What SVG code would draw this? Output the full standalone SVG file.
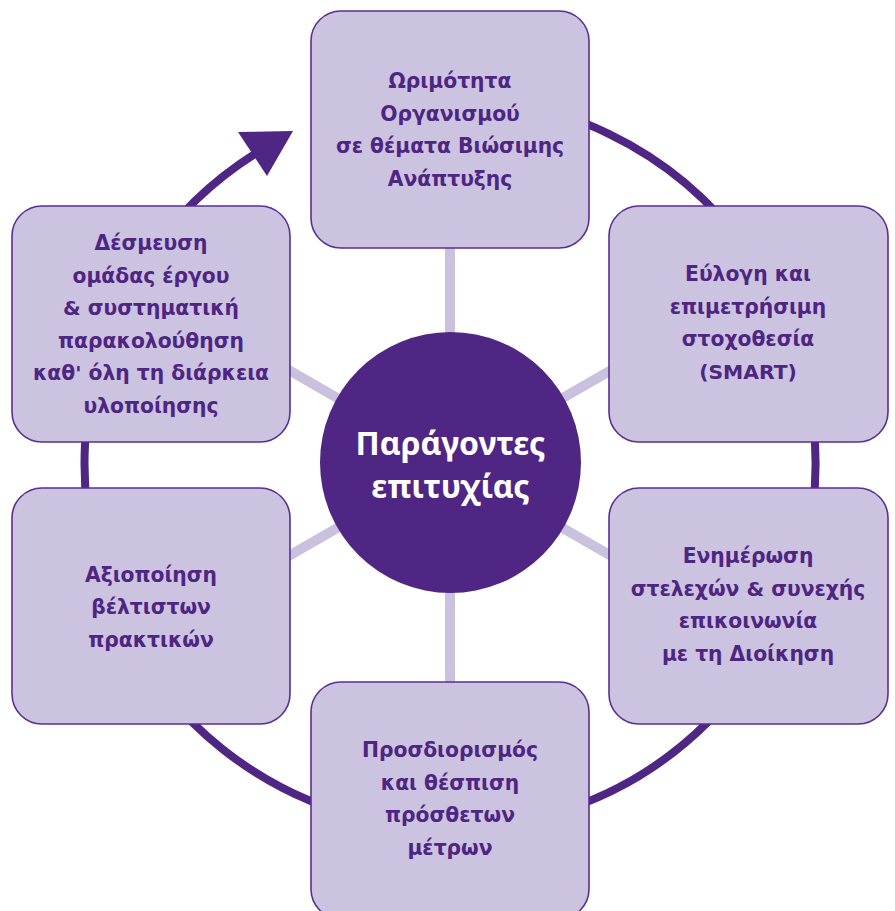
<svg xmlns="http://www.w3.org/2000/svg" width="895" height="911" viewBox="0 0 895 911">
<style>
.box{fill:#cbc3df;stroke:#5b2f91;stroke-width:1.6}
.t{font-family:"DejaVu Sans","Noto Sans",sans-serif;font-weight:700;font-size:20.3px;fill:#4e2582;text-anchor:middle}
.c{font-family:"Noto Sans","DejaVu Sans",sans-serif;font-weight:700;font-size:32px;fill:#ffffff;text-anchor:middle}
.spoke{stroke:#c9c1dd;stroke-width:10;fill:none}
.ring{stroke:#4f2683;stroke-width:8;fill:none}
</style>
<rect width="895" height="911" fill="#ffffff"/>
<g id="connectors">
<path class="ring" d="M 450 97.5 A 365.5 365.5 0 1 1 254.5 154.2"/>
<polygon points="238,132 293,131 267,176" fill="#4f2683"/>
<line class="spoke" x1="450" y1="463" x2="450" y2="240"/>
<line class="spoke" x1="450" y1="463" x2="450" y2="690"/>
<line class="spoke" x1="450" y1="463" x2="620" y2="365"/>
<line class="spoke" x1="450" y1="463" x2="620" y2="561"/>
<line class="spoke" x1="450" y1="463" x2="280" y2="365"/>
<line class="spoke" x1="450" y1="463" x2="280" y2="561"/>
</g>
<g id="center">
<circle cx="450.5" cy="462.5" r="130.5" fill="#4f2683"/>
<text class="c" x="450.5" y="455">Παράγοντες</text>
<text class="c" x="450.5" y="498">επιτυχίας</text>
</g>
<g id="node-top">
<rect class="box" x="311" y="11" width="278" height="237" rx="30"/>
<text class="t" x="450" y="88">Ωριμότητα</text>
<text class="t" x="450" y="121">Οργανισμού</text>
<text class="t" x="450" y="153">σε θέματα Βιώσιμης</text>
<text class="t" x="450" y="186">Ανάπτυξης</text>
</g>
<g id="node-right-upper">
<rect class="box" x="609" y="206" width="279" height="236" rx="30"/>
<text class="t" x="748" y="281">Εύλογη και</text>
<text class="t" x="748" y="314">επιμετρήσιμη</text>
<text class="t" x="748" y="346">στοχοθεσία</text>
<text class="t" x="748" y="379">(SMART)</text>
</g>
<g id="node-right-lower">
<rect class="box" x="609" y="488" width="279" height="236" rx="30"/>
<text class="t" x="748" y="563">Ενημέρωση</text>
<text class="t" x="748" y="596">στελεχών &amp; συνεχής</text>
<text class="t" x="748" y="628">επικοινωνία</text>
<text class="t" x="748" y="661">με τη Διοίκηση</text>
</g>
<g id="node-bottom">
<rect class="box" x="311" y="682" width="278" height="237" rx="30"/>
<text class="t" x="450" y="757">Προσδιορισμός</text>
<text class="t" x="450" y="790">και θέσπιση</text>
<text class="t" x="450" y="822">πρόσθετων</text>
<text class="t" x="450" y="855">μέτρων</text>
</g>
<g id="node-left-lower">
<rect class="box" x="12" y="488" width="278" height="236" rx="30"/>
<text class="t" x="151" y="582">Αξιοποίηση</text>
<text class="t" x="151" y="614">βέλτιστων</text>
<text class="t" x="151" y="647">πρακτικών</text>
</g>
<g id="node-left-upper">
<rect class="box" x="12" y="206" width="278" height="236" rx="30"/>
<text class="t" x="151" y="250">Δέσμευση</text>
<text class="t" x="151" y="283">ομάδας έργου</text>
<text class="t" x="151" y="315">&amp; συστηματική</text>
<text class="t" x="151" y="348">παρακολούθηση</text>
<text class="t" x="151" y="380">καθ' όλη τη διάρκεια</text>
<text class="t" x="151" y="413">υλοποίησης</text>
</g>
</svg>
